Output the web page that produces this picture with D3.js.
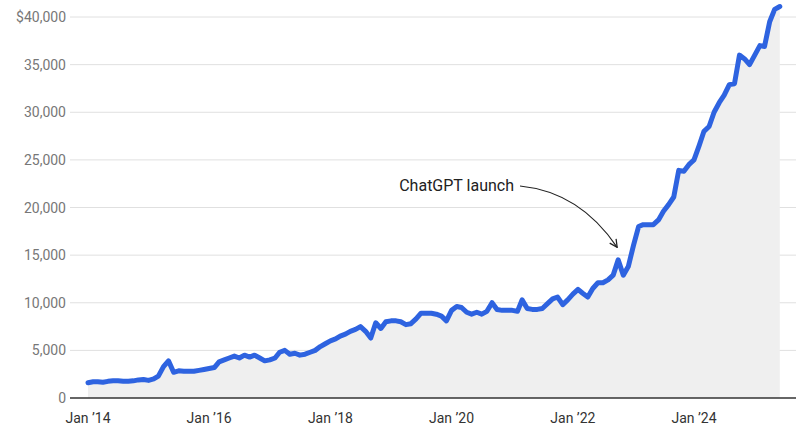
<!DOCTYPE html>
<html><head><meta charset="utf-8">
<script src="https://cdn.jsdelivr.net/npm/d3@7"></script>
<style>body{margin:0;background:#fff}svg{font-family:Roboto,"Noto Sans",sans-serif}</style>
</head><body><svg width="800" height="437"></svg>
<script>
// monthly values from Jan 2014
var values = [
  1600,1700,1700,1650,1750,1800,1800,1750,1750,1800,1900,1950,
  1850,2000,2300,3300,3900,2700,2850,2800,2800,2800,2900,3000,
  3100,3200,3800,4000,4200,4400,4200,4500,4300,4500,4200,3900,
  4000,4200,4800,5000,4600,4700,4500,4600,4800,5000,5400,5700,
  6000,6200,6500,6700,7000,7200,7500,7000,6300,7900,7300,8000,
  8100,8100,8000,7700,7800,8300,8900,8900,8900,8800,8600,8100,
  9200,9600,9500,9000,8800,9000,8800,9100,10000,9300,9200,9200,
  9200,9100,10300,9400,9300,9300,9400,9900,10400,10600,9800,10300,
  10900,11400,11000,10600,11500,12100,12100,12400,12900,14500,12900,13800,
  16000,18000,18200,18200,18200,18700,19600,20300,21100,23900,23800,24500,
  25000,26500,28000,28500,30000,31000,31800,32900,33000,36000,35600,35000,
  36000,37000,36900,39500,40800,41100
];
var yTicks = [0,5000,10000,15000,20000,25000,30000,35000,40000];
var xTickYears = [2014,2016,2018,2020,2022,2024];
var annotation = {text: "ChatGPT launch", date: new Date(2022, 9, 1), value: 15500};

var data = values.map((v, i) => ({date: new Date(2014, i, 1), value: v}));
var svg = d3.select("svg");
var x = d3.scaleTime().domain([new Date(2014,0,1), new Date(2024,0,1)]).range([88, 694]);
var y = d3.scaleLinear().domain([0, 40000]).range([398, 17]);

svg.append("g").selectAll("line").data(yTicks.slice(1)).enter().append("line")
  .attr("x1", 70).attr("x2", 796).attr("y1", d => y(d)).attr("y2", d => y(d))
  .attr("stroke", "#e0e0e0");

svg.append("path").datum(data)
  .attr("fill", "#efefef")
  .attr("d", d3.area().x(d => x(d.date)).y0(y(0)).y1(d => y(d.value)));

svg.append("line").attr("x1", 70).attr("x2", 796).attr("y1", y(0)).attr("y2", y(0))
  .attr("stroke", "#333").attr("stroke-width", 1.5);

svg.append("path").datum(data)
  .attr("fill", "none").attr("stroke", "#2e63e0").attr("stroke-width", 5)
  .attr("stroke-linejoin", "round").attr("stroke-linecap", "round")
  .attr("d", d3.line().x(d => x(d.date)).y(d => y(d.value)));

svg.append("g").selectAll("text").data(yTicks).enter().append("text")
  .attr("x", 66).attr("y", d => y(d) + 5).attr("text-anchor", "end")
  .attr("fill", "#777").attr("font-size", 14)
  .text(d => (d === 40000 ? "$" : "") + d3.format(",")(d));

svg.append("g").selectAll("text").data(xTickYears).enter().append("text")
  .attr("x", d => x(new Date(d, 0, 1))).attr("y", 423).attr("text-anchor", "middle")
  .attr("fill", "#333").attr("font-size", 14)
  .text(d => "Jan \u2019" + String(d).slice(2));

// annotation
var tx = x(annotation.date), ty = y(annotation.value);
svg.append("defs").append("marker").attr("id", "ah").attr("viewBox", "0 0 10 10")
  .attr("refX", 9).attr("refY", 5).attr("markerWidth", 8).attr("markerHeight", 8)
  .attr("orient", "auto").append("path").attr("d", "M1,1L9,5L1,9")
  .attr("fill", "none").attr("stroke", "#222").attr("stroke-width", 1.3);
svg.append("text").attr("x", 514).attr("y", 191).attr("text-anchor", "end")
  .attr("font-size", 16).attr("fill", "#222").text(annotation.text);
svg.append("path")
  .attr("d", `M520,186 Q580,192 ${tx - 1},${ty - 3}`)
  .attr("fill", "none").attr("stroke", "#222").attr("stroke-width", 1.2)
  .attr("marker-end", "url(#ah)");
</script></body></html>
